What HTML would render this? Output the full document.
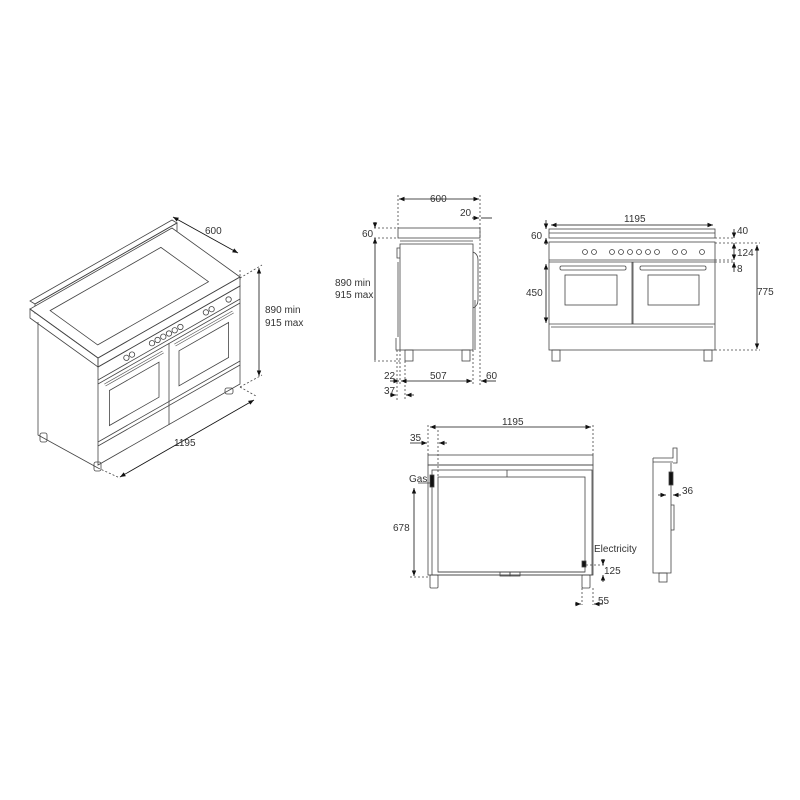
<!DOCTYPE html>
<html><head><meta charset="utf-8"><style>
html,body{margin:0;padding:0;background:#fff}
svg{display:block}
text{font-family:"Liberation Sans",sans-serif;font-size:10px;fill:#333}
</style></head><body>
<svg width="800" height="800" viewBox="0 0 800 800" xmlns="http://www.w3.org/2000/svg">
<defs>
<marker id="a" viewBox="0 0 10 10" refX="10" refY="5" markerWidth="7" markerHeight="7" orient="auto-start-reverse"><path d="M0,1 L10,5 L0,9 z" fill="#111"/></marker>
</defs>
<g fill="none" stroke="#444" stroke-width="0.8">
<!-- ISO VIEW -->
<polygon points="30,301 172,220 177,223 35,304" fill="#fff"/>
<polygon points="35,304 177,223 177,232 35,313"/>
<polygon points="98,358 240,277 172,228 30,309" fill="#fff"/>
<polygon points="97.7,344.9 208.5,281.7 160.9,247.4 50.1,310.6"/>
<polygon points="98,358 240,277 240,286 98,367"/>
<polygon points="30,309 98,358 98,367 30,318"/>
<polyline points="38,322 38,435 98,468"/>
<polygon points="98,367 240,286 240,384 98,465"/>
<line x1="98" y1="380" x2="240" y2="299"/>
<line x1="98" y1="384" x2="240" y2="303"/>
<line x1="169" y1="343" x2="169" y2="425"/>
<line x1="98" y1="442" x2="240" y2="361"/>
<line x1="98" y1="446" x2="240" y2="365"/>
<polygon points="109.4,390.5 159,362.2 159,397.2 109.4,425.5"/>
<polygon points="179,350.8 228.6,322.5 228.6,357.5 179,385.8"/>
<line x1="105" y1="385" x2="163" y2="352" stroke-width="3" stroke="#555"/>
<line x1="105" y1="385" x2="163" y2="352" stroke-width="1.6" stroke="#fff"/>
<line x1="175" y1="345" x2="233" y2="312" stroke-width="3" stroke="#555"/>
<line x1="175" y1="345" x2="233" y2="312" stroke-width="1.6" stroke="#fff"/>
<g>
<circle cx="126.4" cy="357.8" r="2.7"/><circle cx="132" cy="354.6" r="2.7"/>
<circle cx="152" cy="343.2" r="2.7"/><circle cx="157.6" cy="340" r="2.7"/>
<circle cx="163.3" cy="336.7" r="2.7"/><circle cx="169" cy="333.5" r="2.7"/>
<circle cx="174.7" cy="330.3" r="2.7"/><circle cx="180.4" cy="327" r="2.7"/>
<circle cx="205.9" cy="312.4" r="2.7"/><circle cx="211.6" cy="309.2" r="2.7"/>
<circle cx="228.6" cy="299.5" r="2.7"/>
</g>
<rect x="40" y="433" width="7" height="9" rx="2"/>
<rect x="94" y="462" width="7" height="9" rx="2"/>
<rect x="225" y="388" width="8" height="6" rx="2"/>
<!-- iso dims -->
<line x1="240" y1="270" x2="240" y2="280" stroke-dasharray="2,2"/>
<line x1="240" y1="278" x2="262" y2="265" stroke-dasharray="2,2"/>
<line x1="240" y1="387" x2="262" y2="375" stroke-dasharray="2,2"/>
<line x1="98" y1="468" x2="120" y2="478" stroke-dasharray="2,2"/>
<line x1="240" y1="387" x2="256" y2="396" stroke-dasharray="2,2"/>
</g>
<g stroke="#111" stroke-width="0.8" fill="none">
<line x1="173" y1="217" x2="238" y2="253" marker-start="url(#a)" marker-end="url(#a)"/>
<line x1="259" y1="268" x2="259" y2="376" marker-start="url(#a)" marker-end="url(#a)"/>
<line x1="120" y1="477" x2="254" y2="400" marker-start="url(#a)" marker-end="url(#a)"/>
</g>
<text x="205" y="234">600</text>
<text x="265" y="313">890 min</text>
<text x="265" y="326">915 max</text>
<text x="174" y="446">1195</text>

<!-- SIDE VIEW -->
<g fill="none" stroke="#444" stroke-width="0.8">
<rect x="398" y="228" width="82" height="10"/>
<rect x="400" y="244" width="73" height="106"/>
<line x1="400" y1="241" x2="473" y2="241"/>
<path d="M400,248 h-3 v10 h3 M398,262 v75 M396,338 v12 h4"/>
<path d="M473,252 q5,2 5,8 v40 q0,6 -5,8 M475,300 v50"/>
<rect x="405" y="350" width="8" height="11"/>
<rect x="462" y="350" width="8" height="11"/>
<g stroke-dasharray="2,2">
<line x1="398" y1="195" x2="398" y2="228"/>
<line x1="480" y1="195" x2="480" y2="385"/>
<line x1="374" y1="228" x2="398" y2="228"/>
<line x1="374" y1="238" x2="398" y2="238"/>
<line x1="374" y1="361" x2="400" y2="361"/>
<line x1="397" y1="350" x2="397" y2="400"/>
<line x1="400" y1="350" x2="400" y2="385"/>
<line x1="405" y1="361" x2="405" y2="400"/>
<line x1="473" y1="350" x2="473" y2="385"/>
</g>
</g>
<g stroke="#111" stroke-width="0.8" fill="none">
<line x1="399" y1="199" x2="479" y2="199" marker-start="url(#a)" marker-end="url(#a)"/>
<line x1="472" y1="218" x2="479" y2="218" marker-end="url(#a)"/>
<line x1="481" y1="218" x2="492" y2="218"/>
<line x1="375" y1="222" x2="375" y2="228" marker-end="url(#a)"/>
<line x1="375" y1="238" x2="375" y2="360" marker-start="url(#a)"/>
<line x1="390" y1="381" x2="399" y2="381" marker-end="url(#a)"/>
<line x1="401" y1="381" x2="472" y2="381" marker-start="url(#a)" marker-end="url(#a)"/>
<line x1="481" y1="381" x2="496" y2="381" marker-start="url(#a)"/>
<line x1="390" y1="395" x2="396" y2="395" marker-end="url(#a)"/>
<line x1="406" y1="395" x2="414" y2="395" marker-start="url(#a)"/>
</g>
<text x="430" y="202">600</text>
<text x="460" y="216">20</text>
<text x="362" y="237">60</text>
<text x="335" y="286">890 min</text>
<text x="335" y="298">915 max</text>
<text x="384" y="379">22</text>
<text x="430" y="379">507</text>
<text x="486" y="379">60</text>
<text x="384" y="394">37</text>

<!-- FRONT VIEW -->
<g fill="none" stroke="#444" stroke-width="0.8">
<rect x="549" y="229" width="166" height="9"/>
<line x1="549" y1="233" x2="715" y2="233"/>
<rect x="549" y="242" width="166" height="108"/>
<line x1="549" y1="260" x2="715" y2="260"/>
<line x1="549" y1="262" x2="715" y2="262"/>
<line x1="632" y1="262" x2="632" y2="324"/>
<line x1="633" y1="262" x2="633" y2="324"/>
<line x1="549" y1="324" x2="715" y2="324"/>
<line x1="551" y1="327" x2="713" y2="327"/>
<rect x="560" y="266" width="66" height="4" rx="1.5"/>
<rect x="640" y="266" width="66" height="4" rx="1.5"/>
<rect x="565" y="275" width="52" height="30"/>
<rect x="648" y="275" width="51" height="30"/>
<g><circle cx="585" cy="252" r="2.5"/><circle cx="594" cy="252" r="2.5"/>
<circle cx="612" cy="252" r="2.5"/><circle cx="621" cy="252" r="2.5"/><circle cx="630" cy="252" r="2.5"/><circle cx="639" cy="252" r="2.5"/><circle cx="648" cy="252" r="2.5"/><circle cx="657" cy="252" r="2.5"/>
<circle cx="675" cy="252" r="2.5"/><circle cx="684" cy="252" r="2.5"/><circle cx="702" cy="252" r="2.5"/></g>
<rect x="552" y="350" width="8" height="11"/>
<rect x="704" y="350" width="8" height="11"/>
<g stroke-dasharray="2,2">
<line x1="715" y1="238" x2="735" y2="238"/>
<line x1="715" y1="243" x2="760" y2="243"/>
<line x1="715" y1="260" x2="735" y2="260"/>
<line x1="715" y1="262" x2="735" y2="262"/>
<line x1="715" y1="350" x2="760" y2="350"/>
</g>
</g>
<g stroke="#111" stroke-width="0.8" fill="none">
<line x1="551" y1="225" x2="713" y2="225" marker-start="url(#a)" marker-end="url(#a)"/>
<line x1="546" y1="220" x2="546" y2="229" marker-end="url(#a)"/>
<line x1="546" y1="238" x2="546" y2="245" marker-start="url(#a)"/>
<line x1="546" y1="264" x2="546" y2="323" marker-start="url(#a)" marker-end="url(#a)"/>
<line x1="734" y1="229" x2="734" y2="238" marker-end="url(#a)"/>
<line x1="734" y1="243" x2="734" y2="260" marker-start="url(#a)" marker-end="url(#a)"/>
<line x1="734" y1="262" x2="734" y2="272" marker-start="url(#a)"/>
<line x1="757" y1="245" x2="757" y2="349" marker-start="url(#a)" marker-end="url(#a)"/>
</g>
<text x="624" y="222">1195</text>
<text x="531" y="239">60</text>
<text x="526" y="296">450</text>
<text x="737" y="234">40</text>
<text x="737" y="256">124</text>
<text x="737" y="272">8</text>
<text x="757" y="295">775</text>

<!-- PLAN / REAR VIEW -->
<g fill="none" stroke="#444" stroke-width="0.8">
<rect x="428" y="455" width="165" height="10"/>
<rect x="428" y="465" width="165" height="110"/>
<rect x="432" y="470" width="160" height="105"/>
<rect x="438" y="477" width="147" height="95"/>
<line x1="507" y1="470" x2="507" y2="477"/>
<line x1="438" y1="572" x2="585" y2="572"/>
<rect x="500" y="572" width="10" height="4"/><rect x="510" y="572" width="10" height="4"/>
<rect x="430" y="475" width="4" height="12" fill="#111"/>
<rect x="582" y="561" width="4" height="6" fill="#111"/>
<rect x="430" y="575" width="8" height="13" rx="1"/>
<rect x="582" y="575" width="8" height="13" rx="1"/>
<g stroke-dasharray="2,2">
<line x1="428" y1="425" x2="428" y2="455"/>
<line x1="593" y1="425" x2="593" y2="455"/>
<line x1="438" y1="430" x2="438" y2="477"/>
<line x1="410" y1="577" x2="430" y2="577"/>
<line x1="586" y1="565" x2="605" y2="565"/>
<line x1="582" y1="588" x2="582" y2="605"/>
<line x1="593" y1="588" x2="593" y2="605"/>
</g>
<line x1="418" y1="483" x2="430" y2="483"/>
</g>
<g stroke="#111" stroke-width="0.8" fill="none">
<line x1="430" y1="427" x2="591" y2="427" marker-start="url(#a)" marker-end="url(#a)"/>
<line x1="410" y1="443" x2="427" y2="443" marker-end="url(#a)"/>
<line x1="439" y1="443" x2="447" y2="443" marker-start="url(#a)"/>
<line x1="414" y1="488" x2="414" y2="576" marker-start="url(#a)" marker-end="url(#a)"/>
<line x1="603" y1="559" x2="603" y2="565" marker-end="url(#a)"/>
<line x1="603" y1="575" x2="603" y2="582" marker-start="url(#a)"/>
<line x1="575" y1="604" x2="581" y2="604" marker-end="url(#a)"/>
<line x1="594" y1="604" x2="603" y2="604" marker-start="url(#a)"/>
</g>
<text x="502" y="425">1195</text>
<text x="410" y="441">35</text>
<text x="409" y="482">Gas</text>
<text x="393" y="531">678</text>
<text x="594" y="552">Electricity</text>
<text x="604" y="574">125</text>
<text x="598" y="604">55</text>

<!-- SMALL SIDE -->
<g fill="none" stroke="#444" stroke-width="0.8">
<path d="M653,458 h20 v-10 h4 v15 h-4 M653,458 v115 h18 v-110"/>
<line x1="653" y1="462" x2="673" y2="462"/>
<rect x="669" y="472" width="4" height="13" fill="#111"/>
<path d="M671,505 h3 v25 h-3"/>
<rect x="659" y="573" width="8" height="9"/>
</g>
<g stroke="#111" stroke-width="0.8" fill="none">
<line x1="658" y1="495" x2="666" y2="495" marker-end="url(#a)"/>
<line x1="673" y1="495" x2="681" y2="495" marker-start="url(#a)"/>
</g>
<text x="682" y="494">36</text>
</svg>
</body></html>
